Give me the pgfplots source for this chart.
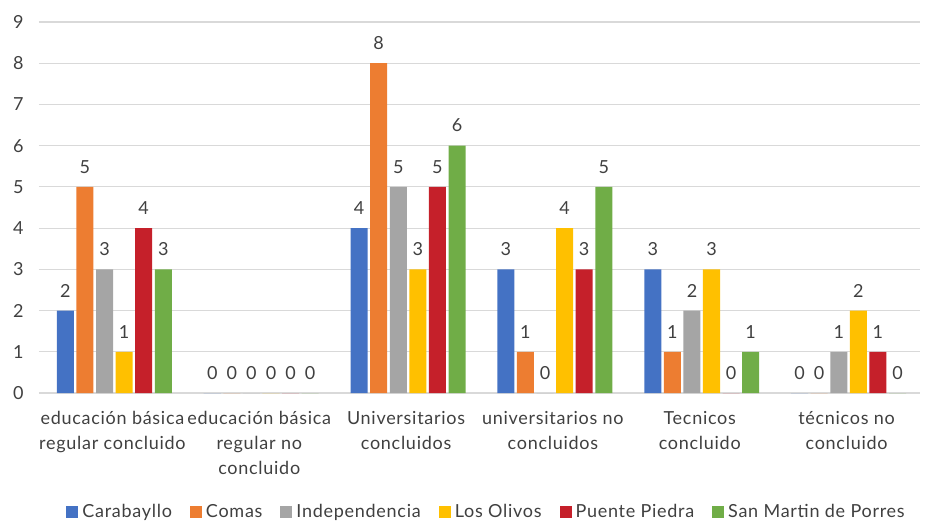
\documentclass[border=0pt]{standalone}
\usepackage{fontspec}
\setmainfont[LetterSpace=4]{Lato}
\usepackage{pgfplots}
\pgfplotsset{compat=1.18}
\definecolor{cBlue}{HTML}{4472C4}
\definecolor{cOrange}{HTML}{ED7D31}
\definecolor{cGray}{HTML}{A5A5A5}
\definecolor{cYellow}{HTML}{FFC000}
\definecolor{cRed}{HTML}{C5202A}
\definecolor{cGreen}{HTML}{70AD47}
\definecolor{txt}{HTML}{404040}
\definecolor{gridc}{HTML}{D9D9D9}
\begin{document}
\begin{tikzpicture}
\begin{axis}[
  at={(0pt,0pt)}, anchor=south west,
  scale only axis, width=881pt, height=371pt,
  xmin=-0.5, xmax=5.5, ymin=0, ymax=9,
  ytick={0,...,9},
  xtick={0,...,5},
  xticklabels={{educación básica\\regular concluido},{educación básica\\regular no\\concluido},{Universitarios\\concluidos},{universitarios no\\concluidos},{Tecnicos\\concluido},{técnicos no\\concluido}},
  xticklabel style={align=center, font=\fontsize{18}{25}\selectfont, text=txt, yshift=-15pt},
  yticklabel style={font=\fontsize{18}{21}\selectfont, text=txt, xshift=-12pt},
  /pgf/number format/assume math mode=true,
  major tick length=0pt,
  xmajorgrids=false,
  ymajorgrids, grid style={draw=gridc, line width=1.2pt},
  axis line style={draw=none},
  ybar, bar width=0.116,
  nodes near coords,
  every node near coord/.append style={font=\fontsize{18}{21}\selectfont, text=txt, yshift=10pt},
  legend columns=6,
  legend style={draw=none, at={(0.508,-0.32)}, anchor=center, font=\fontsize{18}{21}\selectfont, text=txt,
    /tikz/every even column/.append style={column sep=16pt},
    /tikz/every odd column/.append style={column sep=2pt}},
  legend image code/.code={\fill[#1] (0pt,-6pt) rectangle (12pt,6pt);},
]
\addplot[fill=cBlue, draw=none, bar shift=-0.32] coordinates {(0,2) (1,0) (2,4) (3,3) (4,3) (5,0)};
\addplot[fill=cOrange, draw=none, bar shift=-0.187] coordinates {(0,5) (1,0) (2,8) (3,1) (4,1) (5,0)};
\addplot[fill=cGray, draw=none, bar shift=-0.053] coordinates {(0,3) (1,0) (2,5) (3,0) (4,2) (5,1)};
\addplot[fill=cYellow, draw=none, bar shift=0.08] coordinates {(0,1) (1,0) (2,3) (3,4) (4,3) (5,2)};
\addplot[fill=cRed, draw=none, bar shift=0.213] coordinates {(0,4) (1,0) (2,5) (3,3) (4,0) (5,1)};
\addplot[fill=cGreen, draw=none, bar shift=0.347] coordinates {(0,3) (1,0) (2,6) (3,5) (4,1) (5,0)};
\legend{Carabayllo,Comas,Independencia,Los Olivos,Puente Piedra,San Martin de Porres}
\end{axis}
\path (-39pt,-126pt) rectangle (889pt,393pt);
\end{tikzpicture}
\end{document}
